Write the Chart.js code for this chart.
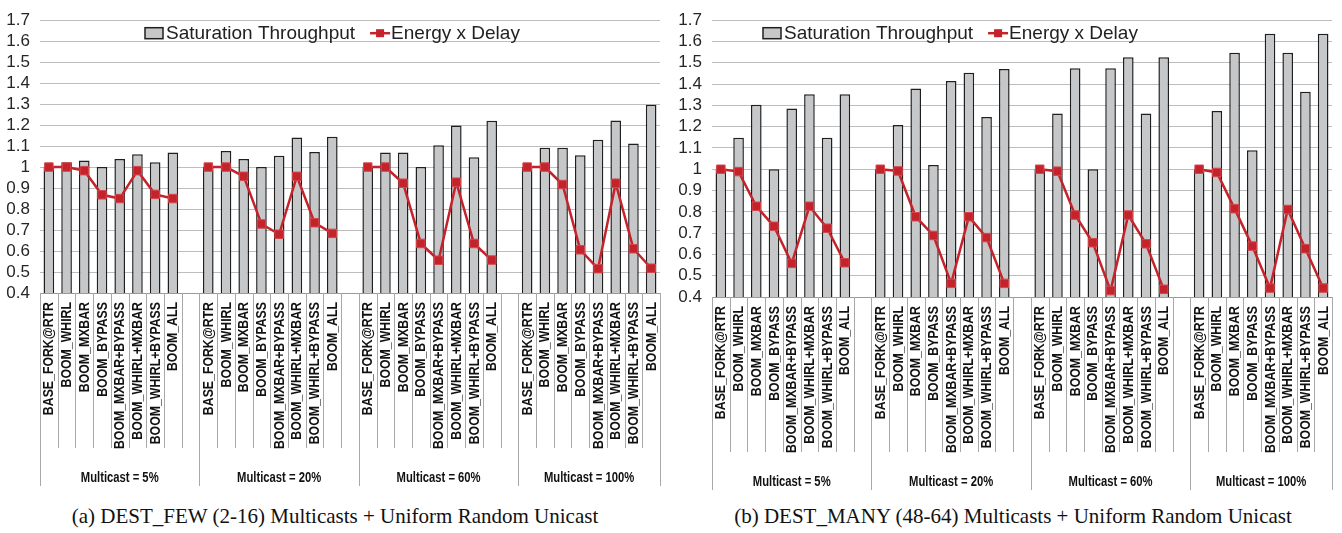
<!DOCTYPE html>
<html>
<head>
<meta charset="utf-8">
<script src="https://cdn.jsdelivr.net/npm/chart.js@4.4.0/dist/chart.umd.min.js"></script>
<style>
  body { margin: 0; background: #fff; width: 1342px; height: 533px; position: relative; overflow: hidden; }
  .panel { position: absolute; top: 0; }
  .caption {
    position: absolute; top: 503px; width: 670px; text-align: center; white-space: nowrap; color: #111;
    font-family: "Liberation Serif", "Times New Roman", serif; font-size: 21px; line-height: 26px;
  }
</style>
</head>
<body>
<div class="panel" style="left:0"><canvas id="chartFew" width="670" height="500"></canvas></div>
<div class="panel" style="left:670px"><canvas id="chartMany" width="672" height="500"></canvas></div>
<div class="caption" style="left:0">(a) DEST_FEW (2-16) Multicasts + Uniform Random Unicast</div>
<div class="caption" style="left:678px">(b) DEST_MANY (48-64) Multicasts + Uniform Random Unicast</div>
<script>
// configurations inside each multicast group
const configs = ["BASE_FORK@RTR", "BOOM_WHIRL", "BOOM_MXBAR", "BOOM_BYPASS",
  "BOOM_MXBAR+BYPASS", "BOOM_WHIRL+MXBAR", "BOOM_WHIRL+BYPASS", "BOOM_ALL"];
const groups = ["Multicast = 5%", "Multicast = 20%", "Multicast = 60%", "Multicast = 100%"];

const yTicks = [0.4, 0.5, 0.6, 0.7, 0.8, 0.9, 1.0, 1.1, 1.2, 1.3, 1.4, 1.5, 1.6, 1.7];
const yTickLabels = ["0.4", "0.5", "0.6", "0.7", "0.8", "0.9", "1", "1.1", "1.2", "1.3", "1.4", "1.5", "1.6", "1.7"];

// (a) DEST_FEW, one row per multicast group
const fewThroughput = [
  [1.0, 1.023, 1.032, 1.0, 1.038, 1.061, 1.023, 1.069],
  [1.0, 1.077, 1.038, 1.0, 1.054, 1.141, 1.072, 1.145],
  [1.0, 1.07, 1.07, 1.0, 1.104, 1.198, 1.047, 1.221],
  [1.0, 1.092, 1.092, 1.057, 1.13, 1.222, 1.112, 1.297]
];
const fewEnergyDelay = [
  [1.0, 1.0, 0.983, 0.868, 0.85, 0.983, 0.87, 0.85],
  [1.0, 1.0, 0.956, 0.729, 0.68, 0.956, 0.735, 0.684],
  [1.0, 1.0, 0.923, 0.636, 0.556, 0.928, 0.636, 0.557],
  [1.0, 1.0, 0.917, 0.606, 0.516, 0.923, 0.611, 0.518]
];

// (b) DEST_MANY
const manyThroughput = [
  [1.0, 1.148, 1.303, 1.0, 1.285, 1.352, 1.148, 1.352],
  [1.0, 1.208, 1.379, 1.02, 1.415, 1.453, 1.245, 1.471],
  [1.0, 1.262, 1.474, 1.0, 1.474, 1.526, 1.262, 1.526],
  [1.0, 1.273, 1.547, 1.089, 1.636, 1.547, 1.364, 1.636]
];
const manyEnergyDelay = [
  [1.0, 0.989, 0.826, 0.732, 0.558, 0.826, 0.723, 0.561],
  [1.0, 0.992, 0.777, 0.689, 0.464, 0.777, 0.679, 0.464],
  [1.0, 0.991, 0.785, 0.655, 0.43, 0.785, 0.65, 0.436],
  [1.0, 0.985, 0.815, 0.639, 0.442, 0.811, 0.627, 0.442]
];

// one empty slot between groups
function withGaps(rows, gap) {
  const out = [];
  rows.forEach((r, i) => {
    out.push(...r);
    if (i < rows.length - 1) out.push(gap);
  });
  return out;
}
const labels = withGaps(groups.map(() => configs), "");
const groupStarts = groups.map((g, i) => i * (configs.length + 1));

const BAR_FILL = "#c6c7c9";
const BAR_EDGE = "#1f1f1f";
const RED = "#c4232b";
const sans = "'Liberation Sans', Arial, sans-serif";

// rotated (narrowed) category names, separators and group names under the axis
const groupAxis = {
  id: "groupAxis",
  afterDraw(chart) {
    const x = chart.scales.x, area = chart.chartArea, ctx = chart.ctx;
    const n = chart.data.labels.length;
    const slot = (x.getPixelForValue(n - 1) - x.getPixelForValue(0)) / (n - 1);
    const edge = i => x.getPixelForValue(i) - slot / 2;
    ctx.save();
    ctx.strokeStyle = "#a8a8a8";
    ctx.lineWidth = 1;
    for (let i = 0; i <= n; i++) {
      const isLong = groupStarts.includes(i) || i === n;
      const px = Math.round(edge(i)) + 0.5;
      ctx.beginPath();
      ctx.moveTo(px, area.bottom);
      ctx.lineTo(px, area.bottom + (isLong ? 193 : 155));
      ctx.stroke();
    }

    ctx.fillStyle = "#111";
    ctx.font = "bold 15px " + sans;
    ctx.textAlign = "right";
    ctx.textBaseline = "middle";
    chart.data.labels.forEach((lab, i) => {
      if (!lab) return;
      ctx.save();
      ctx.translate(x.getPixelForValue(i) + 0.5, area.bottom + 9);
      ctx.rotate(-Math.PI / 2);
      ctx.scale(0.82, 1);
      ctx.fillText(lab, 0, 0);
      ctx.restore();
    });

    ctx.textAlign = "center";
    groups.forEach((g, k) => {
      const a = edge(groupStarts[k]);
      const b = k < groups.length - 1 ? edge(groupStarts[k + 1]) : edge(n);
      ctx.save();
      ctx.translate((a + b) / 2, area.bottom + 185);
      ctx.scale(0.75, 1);
      ctx.fillText(g, 0, 0);
      ctx.restore();
    });
    ctx.restore();
  }
};

// excel style legend sitting inside the plot
const innerLegend = {
  id: "innerLegend",
  afterDraw(chart, args, opts) {
    const ctx = chart.ctx, area = chart.chartArea;
    let px = area.left + opts.offsetX;
    const cy = area.top + 13;
    ctx.save();
    ctx.font = "19px " + sans;
    ctx.textBaseline = "middle";
    chart.data.datasets.forEach(ds => {
      if (ds.type === "bar") {
        ctx.fillStyle = BAR_FILL;
        ctx.fillRect(px, cy - 5.5, 18, 11);
        ctx.strokeStyle = BAR_EDGE;
        ctx.lineWidth = 1.5;
        ctx.strokeRect(px, cy - 5.5, 18, 11);
      } else {
        ctx.strokeStyle = RED;
        ctx.lineWidth = 2.5;
        ctx.beginPath();
        ctx.moveTo(px, cy);
        ctx.lineTo(px + 20, cy);
        ctx.stroke();
        ctx.fillStyle = RED;
        ctx.fillRect(px + 6, cy - 4, 8, 8);
      }
      px += 21;
      ctx.fillStyle = "#222";
      ctx.fillText(ds.label, px, cy + 1);
      px += ctx.measureText(ds.label).width + 15;
    });
    ctx.restore();
  }
};

function makeChart(id, throughput, energyDelay, opt) {
  const ctx = document.getElementById(id).getContext("2d");
  return new Chart(ctx, {
    data: {
      labels: labels,
      datasets: [
        {
          type: "bar",
          label: "Saturation Throughput",
          data: withGaps(throughput, null),
          backgroundColor: BAR_FILL,
          borderColor: BAR_EDGE,
          borderWidth: 1.5,
          barPercentage: 0.6,
          categoryPercentage: 1,
          order: 1,
        },
        {
          type: "line",
          label: "Energy x Delay",
          data: withGaps(energyDelay, null),
          borderColor: RED,
          borderWidth: 2.5,
          pointStyle: "rect",
          pointRadius: 6,
          pointBackgroundColor: RED,
          pointBorderColor: "#d4474d",
          pointBorderWidth: 1,
          spanGaps: false,
          tension: 0,
          order: 0,
        },
      ],
    },
    options: {
      responsive: false,
      animation: false,
      devicePixelRatio: 1,
      layout: { padding: { top: 0, right: 10, left: 0, bottom: 0 } },
      plugins: {
        legend: { display: false },
        tooltip: { enabled: false },
        innerLegend: { offsetX: opt.legendX },
      },
      scales: {
        x: {
          grid: { display: false },
          border: { display: true, color: "#9a9a9a", width: 1 },
          ticks: { display: false },
          afterFit: s => { s.height = 500 - opt.bottom; },
        },
        y: {
          min: 0.4,
          max: 1.7,
          afterBuildTicks: s => { s.ticks = yTicks.map(v => ({ value: v })); },
          ticks: {
            autoSkip: false,
            padding: 10,
            color: "#262626",
            font: { family: sans, size: 17 },
            callback: (v, i) => yTickLabels[i],
          },
          grid: { color: "#bdbdbd", lineWidth: 1, drawTicks: false },
          border: { display: false },
          afterFit: s => { s.width = opt.left; },
        },
      },
    },
    plugins: [groupAxis, innerLegend],
  });
}

makeChart("chartFew", fewThroughput, fewEnergyDelay, { bottom: 293, left: 40, legendX: 105 });
makeChart("chartMany", manyThroughput, manyEnergyDelay, { bottom: 297, left: 42, legendX: 51 });
</script>
</body>
</html>
